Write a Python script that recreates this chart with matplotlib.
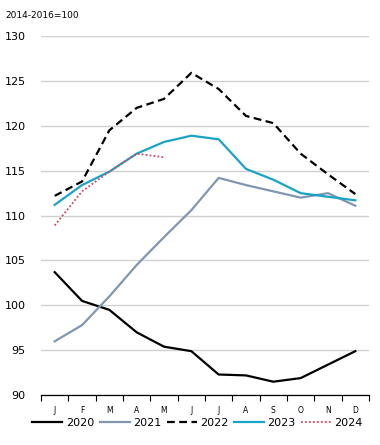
import matplotlib
matplotlib.use("Agg")
import matplotlib.pyplot as plt
import numpy as np

months = ["J", "F", "M", "A", "M", "J", "J", "A", "S", "O", "N", "D"]
y2020 = [103.7, 100.5, 99.5, 97.0, 95.4, 94.9, 92.3, 92.2, 91.5, 91.9, 93.4, 94.9]
y2021 = [96.0, 97.8, 101.0, 104.5, 107.6, 110.6, 114.2, 113.4, 112.7, 112.0, 112.5, 111.1]
y2022 = [112.2, 113.8, 119.5, 122.0, 123.0, 125.9, 124.1, 121.1, 120.3, 116.9, 114.6, 112.4]
y2023 = [111.2, 113.4, 114.9, 116.9, 118.2, 118.9, 118.5, 115.2, 114.0, 112.5, 112.1, 111.7]
y2024 = [108.9, 112.7, 114.9, 116.9, 116.5]

fig = plt.figure(figsize=(3.8, 4.45), dpi=100)
ax = fig.add_axes([0.108, 0.112, 0.863, 0.807])

x = np.arange(len(months))
ax.plot(x, y2020, color="black", lw=1.6, label="2020")
ax.plot(x, y2021, color="#8196b0", lw=1.6, label="2021")
ax.plot(x, y2022, color="black", lw=1.6, ls=(0, (3.5, 2)), label="2022")
ax.plot(x, y2023, color="#1aa3c6", lw=1.6, label="2023")
ax.plot(x[:len(y2024)], y2024, color="#d0485a", lw=1.3, ls=(0, (1, 1.2)), label="2024")

ax.set_xlim(-0.5, 11.5)
ax.set_ylim(90, 130)
ax.set_yticks(range(90, 131, 5))
ax.yaxis.grid(True, color="#d0d0d0", lw=1)
ax.set_axisbelow(True)
ax.tick_params(axis="y", length=0, labelsize=8, pad=11)

ax.set_xticks(np.arange(-0.5, 12, 1))
ax.set_xticklabels([])
ax.set_xticks(x, minor=True)
ax.set_xticklabels(months, minor=True, fontsize=5.5)
ax.tick_params(axis="x", which="major", length=4, direction="out", width=0.8)
ax.tick_params(axis="x", which="minor", length=0, pad=8)

for s in ["top", "right", "left"]:
    ax.spines[s].set_visible(False)
ax.spines["bottom"].set_linewidth(0.9)

fig.text(0.013, 0.975, "2014-2016=100", fontsize=6.5, va="top")

fig.legend(loc="lower center", bbox_to_anchor=(0.52, 0.015), ncol=5, frameon=False,
           fontsize=8, handlelength=2.7, columnspacing=0.5, handletextpad=0.3)

fig.savefig("out.png", dpi=100)
